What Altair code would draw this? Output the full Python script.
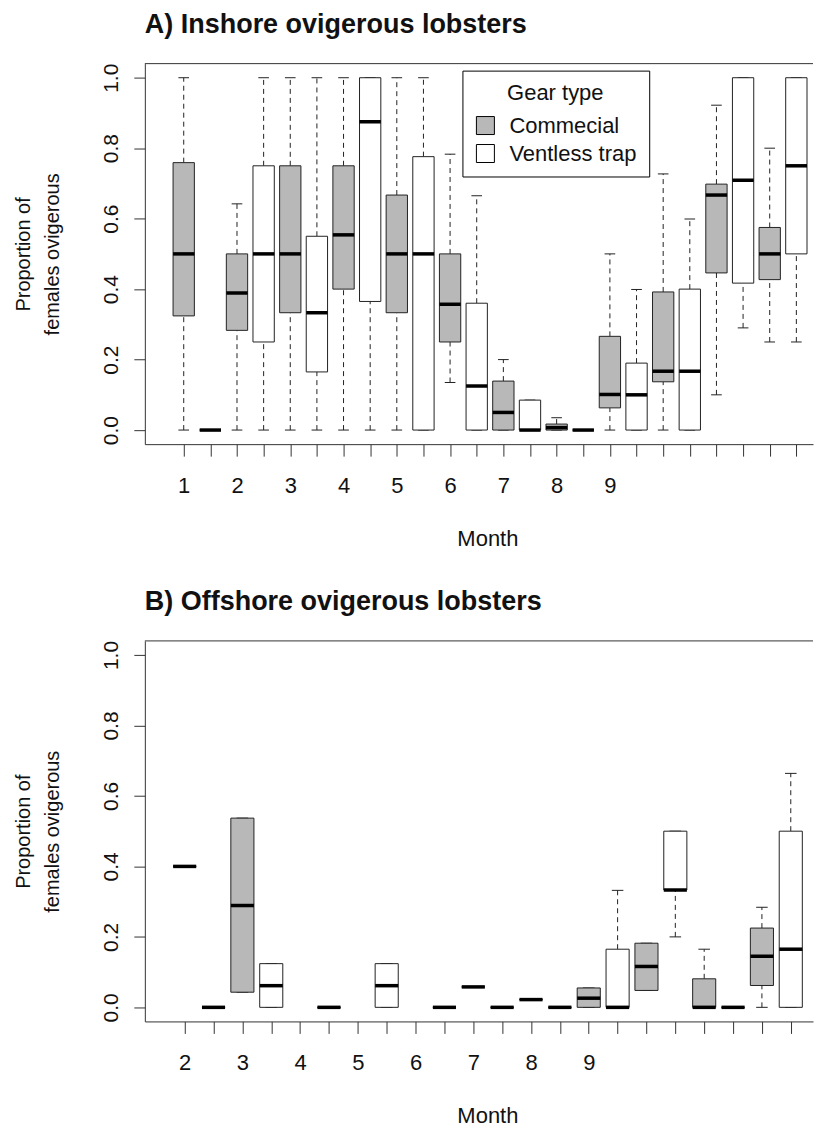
import altair as alt
import pandas as pd

# ---------------- data ----------------
gears = ["Commecial", "Ventless trap"]
gear_colors = ["#b8b8b8", "#ffffff"]

# Panel A: inshore, months 1..12
months_a = [1, 2, 3, 4, 5, 6, 7, 8, 9, 10, 11, 12]
a_comm_lo = [0.0, 0.0, 0.0, 0.0, 0.0, 0.135, 0.0, 0.0, 0.0, 0.0, 0.10, 0.25]
a_comm_q1 = [0.324, 0.283, 0.333, 0.40, 0.333, 0.25, 0.0, 0.0, 0.063, 0.137, 0.446, 0.427]
a_comm_md = [0.50, 0.389, 0.50, 0.554, 0.50, 0.357, 0.05, 0.007, 0.101, 0.167, 0.667, 0.50]
a_comm_q3 = [0.759, 0.50, 0.75, 0.75, 0.667, 0.50, 0.139, 0.017, 0.266, 0.392, 0.698, 0.575]
a_comm_hi = [1.0, 0.642, 1.0, 1.0, 1.0, 0.783, 0.20, 0.035, 0.50, 0.727, 0.922, 0.80]

a_vent_lo = [0.0, 0.0, 0.0, 0.0, 0.0, 0.0, 0.0, 0.0, 0.0, 0.0, 0.29, 0.25]
a_vent_q1 = [0.0, 0.25, 0.165, 0.365, 0.0, 0.0, 0.0, 0.0, 0.0, 0.0, 0.417, 0.50]
a_vent_md = [0.0, 0.50, 0.333, 0.875, 0.50, 0.125, 0.0, 0.0, 0.10, 0.167, 0.709, 0.75]
a_vent_q3 = [0.0, 0.75, 0.55, 1.0, 0.776, 0.36, 0.085, 0.0, 0.19, 0.40, 1.0, 1.0]
a_vent_hi = [0.0, 1.0, 1.0, 1.0, 1.0, 0.665, 0.085, 0.0, 0.399, 0.599, 1.0, 1.0]

# Panel B: offshore, months 2..12 (no commercial data for months 4-6)
months_b = [2, 3, 4, 5, 6, 7, 8, 9, 10, 11, 12]
b_comm_lo = [0.40, 0.043, None, None, None, 0.058, 0.022, 0.0, 0.048, 0.0, 0.0]
b_comm_q1 = [0.40, 0.043, None, None, None, 0.058, 0.022, 0.0, 0.048, 0.0, 0.062]
b_comm_md = [0.40, 0.289, None, None, None, 0.058, 0.022, 0.026, 0.116, 0.0, 0.145]
b_comm_q3 = [0.40, 0.537, None, None, None, 0.058, 0.022, 0.055, 0.182, 0.081, 0.225]
b_comm_hi = [0.40, 0.537, None, None, None, 0.058, 0.022, 0.055, 0.182, 0.165, 0.284]

b_vent_lo = [0.0, 0.0, 0.0, 0.0, 0.0, 0.0, 0.0, 0.0, 0.20, 0.0, 0.0]
b_vent_q1 = [0.0, 0.0, 0.0, 0.0, 0.0, 0.0, 0.0, 0.0, 0.333, 0.0, 0.0]
b_vent_md = [0.0, 0.0615, 0.0, 0.0615, 0.0, 0.0, 0.0, 0.0, 0.333, 0.0, 0.165]
b_vent_q3 = [0.0, 0.124, 0.0, 0.124, 0.0, 0.0, 0.0, 0.165, 0.50, 0.0, 0.50]
b_vent_hi = [0.0, 0.124, 0.0, 0.124, 0.0, 0.0, 0.0, 0.332, 0.50, 0.0, 0.664]

# x-axis tick labels
a_label_pos = [1, 3, 5, 7, 9, 11, 13, 15, 17]
a_label_txt = ["1", "2", "3", "4", "5", "6", "7", "8", "9"]
b_label_pos = [1, 3, 5, 7, 9, 11, 13, 15]
b_label_txt = ["2", "3", "4", "5", "6", "7", "8", "9"]

y_ticks = [0.0, 0.2, 0.4, 0.6, 0.8, 1.0]

# ---------------- build tables ----------------
def build(months, comm, vent):
    rows = []
    first = months[0]
    for i, m in enumerate(months):
        for gi, stats in enumerate([comm, vent]):
            lo, q1, md, q3, hi = (s[i] for s in stats)
            if md is None:
                continue
            pos = 2 * (m - first) + gi + 1
            rows.append(dict(month=m, gear=gears[gi], pos=pos, lo=lo, q1=q1,
                             med=md, q3=q3, hi=hi))
    df = pd.DataFrame(rows)
    df["xl"] = df["pos"] - 0.4
    df["xr"] = df["pos"] + 0.4
    df["cl"] = df["pos"] - 0.2
    df["cr"] = df["pos"] + 0.2
    return df

df_a = build(months_a,
             [a_comm_lo, a_comm_q1, a_comm_md, a_comm_q3, a_comm_hi],
             [a_vent_lo, a_vent_q1, a_vent_md, a_vent_q3, a_vent_hi])
df_b = build(months_b,
             [b_comm_lo, b_comm_q1, b_comm_md, b_comm_q3, b_comm_hi],
             [b_vent_lo, b_vent_q1, b_vent_md, b_vent_q3, b_vent_hi])

W = 669
H = 381
INK = "#222222"
FRAME = "#333333"
FONT = "Liberation Sans"


def label_expr(pos, txt):
    p = "[" + ",".join(str(v) for v in pos) + "]"
    t = "[" + ",".join("'" + s + "'" for s in txt) + "]"
    return f"indexof({p}, datum.value) >= 0 ? {t}[indexof({p}, datum.value)] : ''"


def panel(df, n_pos, dom, title, lpos, ltxt):
    xaxis = alt.Axis(values=list(range(1, n_pos + 1)), labelExpr=label_expr(lpos, ltxt),
                     title="Month", grid=False, tickSize=12, labelPadding=19,
                     labelFontSize=22, titleFontSize=22, titleFontWeight="normal",
                     labelAngle=0, labelAlign="center",
                     titleX=343, titleY=94, titleBaseline="middle", titleAlign="center",
                     domainColor=FRAME, tickColor=FRAME, labelColor="#111",
                     titleColor="#111", labelOverlap=False, labelFlush=False)
    yaxis = alt.Axis(values=y_ticks, format=".1f", title=["Proportion of", "females ovigerous"],
                     grid=False, tickSize=11, labelPadding=12, labelAngle=270,
                     labelAlign="center", labelBaseline="bottom", labelFontSize=21,
                     titleFontSize=20, titleFontWeight="normal", titleAngle=270,
                     titleX=-121, titleY=H / 2, titleAlign="center", titleBaseline="middle",
                     titleLineHeight=29, domainColor=FRAME, tickColor=FRAME,
                     labelColor="#111", titleColor="#111", labelFlush=False)
    xs = alt.Scale(domain=dom, nice=False, zero=False)
    ys = alt.Scale(domain=[-0.04, 1.04], nice=False, zero=False)

    base = alt.Chart(df)
    whisk_hi = base.mark_rule(color=INK, strokeWidth=1, strokeDash=[5, 4]).encode(
        x=alt.X("pos:Q", scale=xs, axis=xaxis),
        y=alt.Y("q3:Q", scale=ys, axis=yaxis), y2="hi:Q")
    whisk_lo = base.mark_rule(color=INK, strokeWidth=1, strokeDash=[5, 4]).encode(
        x=alt.X("pos:Q", scale=xs, axis=xaxis),
        y=alt.Y("lo:Q", scale=ys, axis=yaxis), y2="q1:Q")
    cap_hi = base.mark_rule(color=INK, strokeWidth=1).encode(
        x=alt.X("cl:Q", scale=xs, axis=xaxis), x2="cr:Q",
        y=alt.Y("hi:Q", scale=ys, axis=yaxis))
    cap_lo = base.mark_rule(color=INK, strokeWidth=1).encode(
        x=alt.X("cl:Q", scale=xs, axis=xaxis), x2="cr:Q",
        y=alt.Y("lo:Q", scale=ys, axis=yaxis))
    boxes = base.mark_rect(stroke=INK, strokeWidth=1).encode(
        x=alt.X("xl:Q", scale=xs, axis=xaxis), x2="xr:Q",
        y=alt.Y("q1:Q", scale=ys, axis=yaxis), y2="q3:Q",
        fill=alt.Fill("gear:N", scale=alt.Scale(domain=gears, range=gear_colors),
                      legend=alt.Legend(title="Gear type", orient="none",
                                        legendX=318, legendY=7,
                                        titleFontSize=22, titleFontWeight="normal",
                                        titleAnchor="middle", titleColor="#111",
                                        labelFontSize=22, labelColor="#111",
                                        symbolType="square", symbolSize=324,
                                        symbolStrokeColor="black", symbolStrokeWidth=1,
                                        strokeColor="black", fillColor="white",
                                        padding=12, rowPadding=6, labelOffset=13,
                                        titlePadding=10)))
    medians = base.mark_rule(color="black", strokeWidth=3.5).encode(
        x=alt.X("xl:Q", scale=xs, axis=xaxis), x2="xr:Q",
        y=alt.Y("med:Q", scale=ys, axis=yaxis))
    top = alt.Chart(pd.DataFrame({"k": [0]})).mark_rule(color=FRAME, strokeWidth=1).encode(
        x=alt.value(0), x2=alt.value(W), y=alt.value(0))

    return alt.layer(whisk_hi, whisk_lo, cap_hi, cap_lo, boxes, medians, top).properties(
        width=W, height=H,
        title=alt.TitleParams(title, anchor="start", frame="group", fontSize=27,
                              fontWeight="bold", color="#111", offset=24))


chart_a = panel(df_a, 24, [-0.46, 24.625], "A) Inshore ovigerous lobsters",
                a_label_pos, a_label_txt)
chart_b = panel(df_b, 22, [-0.38, 22.77], "B) Offshore ovigerous lobsters",
                b_label_pos, b_label_txt)

chart = alt.vconcat(chart_a, chart_b, spacing=39).properties(
    padding={"left": 6, "top": 2, "right": 0, "bottom": 0}
).configure(font=FONT).configure_view(stroke=None)

chart.save("out.html", embed_options={"renderer": "svg", "actions": False})
